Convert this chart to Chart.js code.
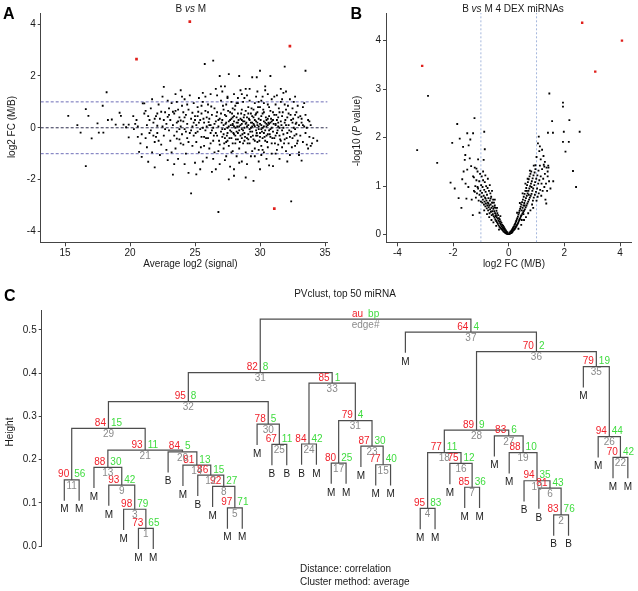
<!DOCTYPE html>
<html>
<head>
<meta charset="utf-8">
<title>B vs M miRNA</title>
<script src="https://cdn.jsdelivr.net/npm/chart.js@4.4.1/dist/chart.umd.min.js"></script>
<style>
  body { margin: 0; background: #fff; }
  #page { position: relative; width: 638px; height: 591px; overflow: hidden; }
  #page canvas { position: absolute; }
</style>
</head>
<body>
<div id="page">
  <canvas id="chartA" width="340" height="280" style="left:0;top:0"></canvas>
  <canvas id="chartB" width="298" height="280" style="left:340px;top:0"></canvas>
  <canvas id="chartC" width="638" height="311" style="left:0;top:280px"></canvas>
</div>
<script>
// Panel A - MA plot (average log2 signal vs log2 FC)
const maTicksX = [15, 20, 25, 30, 35];
const maTicksY = [-4, -2, 0, 2, 4];
const maCutoffs = [-1, 0, 1];
const maDex = [[20.5, 2.65], [24.6, 4.1], [32.3, 3.15], [31.1, -3.12]];
const maPoints = [
  [15.25,0.46],[15.95,0.10],[16.2,-0.19],[16.6,0.72],[16.6,-1.48],[16.8,0.46],[17.05,-0.41],[17.5,0.17],[17.6,-0.19],[17.9,0.85],
  [17.95,-0.19],[18.2,1.37],[18.3,0.30],[18.6,0.32],[18.9,0.12],[19.2,0.58],[19.3,0.46],[19.5,0.12],[19.9,-0.37],[19.9,0.12],
  [20.25,0.45],[20.4,0.15],[20.5,0.3],[20.6,-0.35],[20.7,-0.93],[20.8,-0.6],[20.9,-1.12],[20.9,-0.25],[20.98,0.94],[20.3,-0.05],
  [19.7,0.02],[20.6,0.05],
  [21.1,0.94],[21.1,0.55],[21.2,-0.4],[21.3,-0.75],[21.4,-1.31],[21.5,0.3],[21.6,0.75],[21.6,-0.1],[21.7,1.1],[21.8,0.2],
  [21.9,-1.53],[21.9,-0.55],[22.0,0.45],[22.1,-0.2],[22.1,0.08],[22.2,0.9],[22.3,-1.05],[22.3,0.35],[22.4,-0.65],[22.5,1.2],
  [22.5,0.05],[22.6,1.58],[22.6,-0.3],[22.7,0.6],[22.8,-0.85],[22.8,0.15],[22.9,0.42],[22.9,-1.25],[23.0,-0.1],[23.0,0.75],
  [21.3,0.1],[21.7,-0.95],[22.0,-0.35],[22.4,0.62],[22.7,-0.05],[21.5,-0.2],[22.2,-0.5],[21.9,0.35],[22.9,1.05],[21.2,0.65],
  [23.1,0.3],[23.1,-0.5],[23.2,0.95],[23.3,-1.81],[23.3,0.1],[23.4,-0.3],[23.4,0.55],[23.5,1.3],[23.5,-0.8],[23.6,0.2],
  [23.6,-0.15],[23.7,0.7],[23.7,-1.2],[23.8,0.4],[23.8,-0.45],[23.9,1.45],[23.9,0.05],[24.0,-0.25],[24.0,0.85],[24.1,-0.65],
  [24.1,0.25],[24.2,1.1],[24.2,-0.05],[24.3,-1.0],[24.3,0.5],[24.4,0.15],[24.4,-0.4],[24.5,-1.74],[24.5,0.7],[24.6,-0.2],
  [24.6,1.25],[24.7,-2.53],[24.7,0.35],[24.8,-0.7],[24.8,0.05],[24.9,0.95],[24.9,-0.3],[25.0,0.45],[25.0,-1.35],[23.2,-0.95],
  [23.5,0.65],[23.8,-0.05],[24.1,0.6],[24.4,0.9],[24.7,-0.1],[23.0,0.5],[23.6,1.0],[24.2,-1.4],[24.9,0.2],[23.9,-0.6],
  [25.1,0.1],[25.1,-0.55],[25.2,0.8],[25.2,-0.15],[25.3,1.15],[25.3,-0.95],[25.4,0.3],[25.4,-1.6],[25.5,0.55],[25.5,-0.35],
  [25.6,0.0],[25.6,1.0],[25.7,-0.7],[25.75,2.46],[25.7,0.2],[25.8,-0.1],[25.8,0.65],[25.9,-1.15],[25.9,0.4],[26.0,-0.4],
  [26.0,0.9],[26.1,0.1],[26.1,-0.8],[26.2,1.3],[26.2,-0.2],[26.3,0.5],[26.3,-1.7],[26.4,2.59],[26.4,0.0],[26.4,-0.5],
  [26.5,0.75],[26.5,-0.95],[26.6,0.25],[26.6,1.5],[26.7,-0.3],[26.7,0.6],[26.8,-3.25],[26.8,0.05],[26.9,2.0],[26.9,-0.65],
  [26.9,0.35],[27.0,1.05],[27.0,-0.15],[25.2,0.45],[25.4,-0.05],[25.6,-1.3],[25.8,1.2],[26.0,0.6],[26.2,-0.6],[26.5,0.15],
  [26.7,1.25],[26.9,-1.4],[25.3,0.2],[25.9,0.05],[26.3,-0.1],[26.6,-0.2],[27.0,0.55],[25.5,0.85],[26.1,0.35],[26.8,-0.9],
  [27.1,-0.35],[27.1,0.3],[27.1,1.4],[27.2,-0.8],[27.2,0.1],[27.2,0.7],[27.3,-0.05],[27.3,-1.25],[27.3,1.6],[27.4,0.45],
  [27.4,-0.55],[27.4,0.9],[27.5,0.0],[27.5,-0.2],[27.5,1.15],[27.6,2.07],[27.6,-1.99],[27.6,0.25],[27.6,-0.7],[27.7,0.6],
  [27.7,-0.1],[27.7,-1.5],[27.8,0.35],[27.8,1.0],[27.8,-0.4],[27.9,0.1],[27.9,-0.9],[27.9,0.75],[28.0,-0.25],[28.0,0.45],
  [28.0,1.3],[28.0,-1.6],[28.1,0.0],[28.1,-0.6],[28.1,0.85],[28.2,0.2],[28.2,-0.15],[28.2,-1.1],[28.3,0.55],[28.3,1.15],
  [28.3,-0.45],[28.4,2.0],[28.4,0.05],[28.4,-0.8],[28.5,0.35],[28.5,-0.3],[28.5,1.45],[28.6,-0.05],[28.6,0.7],[28.6,-1.3],
  [28.7,0.25],[28.7,-0.6],[28.7,1.0],[28.8,0.0],[28.8,-0.2],[28.8,0.5],[28.9,-1.92],[28.9,0.15],[28.9,-0.95],[29.0,0.4],
  [29.0,1.25],[29.0,-0.4],[27.2,-0.25],[27.4,0.2],[27.6,0.05],[27.8,-0.15],[28.0,0.25],[28.2,0.4],[28.4,-0.1],[28.6,0.3],
  [28.8,-0.5],[29.0,0.05],[27.3,0.5],[27.5,-0.5],[27.9,0.4],[28.3,-0.2],[28.7,-0.1],[27.7,0.3],[28.1,-0.3],[28.5,0.1],
  [28.9,0.65],[27.1,-0.05],[28.0,0.05],[28.6,0.15],[27.5,1.2],[28.2,0.95],[28.8,1.15],[27.4,-1.1],[28.4,-1.35],[27.9,-0.6],
  [29.1,0.1],[29.1,-0.25],[29.1,0.8],[29.2,-0.6],[29.2,0.3],[29.2,1.5],[29.3,0.0],[29.3,-1.1],[29.3,0.55],[29.4,1.95],
  [29.4,-0.15],[29.4,0.2],[29.5,-2.05],[29.5,0.4],[29.5,-0.45],[29.6,0.95],[29.6,0.05],[29.6,-0.8],[29.7,0.25],[29.7,-0.3],
  [29.7,1.2],[29.75,1.95],[29.8,0.1],[29.8,-0.55],[29.8,0.6],[29.9,-0.05],[29.9,-1.3],[29.9,0.35],[30.0,2.2],[30.0,0.15],
  [30.0,-0.2],[30.0,0.8],[30.1,-0.7],[30.1,0.45],[30.1,1.05],[30.2,0.0],[30.2,-0.4],[30.2,1.2],[30.3,0.25],[30.3,-0.95],
  [30.3,0.6],[30.4,-0.1],[30.4,1.45],[30.4,-0.5],[30.5,-1.2],[30.5,0.3],[30.5,0.05],[30.6,0.9],[30.6,-0.25],[30.6,-0.75],
  [30.7,0.45],[30.7,0.15],[30.7,-1.45],[30.8,2.0],[30.8,-0.35],[30.8,0.65],[30.9,0.0],[30.9,-0.6],[30.9,1.1],[31.0,-1.48],
  [31.0,0.3],[31.0,-0.15],[29.2,-0.05],[29.4,0.45],[29.6,-0.5],[29.8,0.2],[30.0,-0.35],[30.2,0.55],[30.4,0.2],[30.6,0.1],
  [30.8,-0.05],[31.0,0.6],[29.3,-0.35],[29.5,0.15],[29.7,-0.1],[29.9,0.05],[30.1,0.1],[30.3,-0.2],[30.5,-0.3],[30.7,-0.1],
  [30.9,0.25],[29.1,0.55],[29.5,0.7],[29.9,-0.85],[30.3,0.95],[30.7,0.8],[29.4,-0.9],[30.1,-1.05],[30.6,1.3],[29.8,1.4],
  [31.1,0.5],[31.1,-0.4],[31.2,0.1],[31.2,-1.0],[31.2,0.9],[31.3,-0.2],[31.3,0.3],[31.3,1.25],[31.4,-0.65],[31.4,0.05],
  [31.5,0.6],[31.5,-0.3],[31.5,-1.2],[31.6,0.25],[31.6,1.0],[31.7,-0.1],[31.7,-0.75],[31.7,0.45],[31.8,1.35],[31.8,0.0],
  [31.9,2.36],[31.9,-0.45],[31.9,0.2],[32.0,0.7],[32.0,-0.9],[32.0,1.4],[32.1,-0.2],[32.1,0.4],[32.2,0.1],[32.2,-0.6],
  [32.3,1.1],[32.3,-1.05],[32.4,-2.84],[32.4,0.3],[32.4,-0.15],[32.5,0.75],[32.5,-0.4],[32.6,0.0],[32.6,1.0],[32.7,-0.7],
  [32.7,0.5],[32.8,0.2],[32.8,-0.25],[32.9,0.85],[32.9,-0.5],[33.0,0.1],[33.0,-0.95],[31.2,0.15],[31.4,0.4],[31.6,-0.5],
  [31.8,-0.25],[32.0,0.1],[32.2,0.55],[32.5,0.2],[32.7,-0.05],[31.5,0.0],[31.9,0.9],[32.3,-0.35],[32.8,0.6],[31.3,-0.85],
  [32.1,-1.3],[31.7,1.1],
  [33.1,0.45],[33.1,-0.3],[33.2,-1.27],[33.2,0.2],[33.3,0.8],[33.3,-0.55],[33.4,0.05],[33.5,2.2],[33.5,-0.2],[33.5,0.5],
  [33.6,-0.65],[33.7,0.3],[33.8,-0.35],[33.9,0.1],[34.0,-0.6],[34.1,-0.4],[34.4,-0.5],[33.4,0.95],[33.7,-0.8],[33.9,-0.7],
  [33.2,0.35],[33.6,0.0],
  [23.3,0.62],[23.6,-0.42],[23.9,0.28],[24.2,0.4],[24.5,-0.55],[24.8,0.58],[25.05,-0.2],[25.25,0.62],[25.45,-0.75],[25.65,0.35],
  [25.85,-0.4],[26.05,0.22],[26.25,0.82],[26.45,-0.3],[26.65,0.45],[26.85,-0.5],[27.05,0.2],[27.15,0.85],[27.25,-0.6],[27.35,0.15],
  [27.45,-0.3],[27.55,0.65],[27.65,-0.4],[27.75,0.1],[27.85,0.55],[27.95,-0.2],[28.05,0.7],[28.15,-0.45],[28.25,0.05],[28.35,0.3],
  [28.45,-0.55],[28.55,0.55],[28.65,-0.25],[28.75,0.4],[28.85,-0.35],[28.95,0.2],[29.05,-0.6],[29.15,0.35],[29.25,-0.15],[29.35,0.75],
  [29.45,-0.3],[29.55,0.1],[29.65,0.5],[29.75,-0.2],[29.85,0.8],[29.95,-0.5],[30.05,0.3],[30.15,-0.15],[30.25,0.7],[30.35,-0.35],
  [30.45,0.4],[30.55,-0.55],[30.65,0.2],[30.75,-0.25],[30.85,0.35],[30.95,-0.4],[31.05,0.15],[31.15,-0.6],[31.25,0.5],[31.35,-0.1],
  [31.45,0.75],[31.55,-0.45],[31.65,0.1],[31.75,0.6],[31.85,-0.6],[31.95,0.3],[32.05,-0.4],[32.15,0.85],[32.25,-0.1],[32.35,0.5],
  [32.45,-0.75],[32.55,0.35],[32.65,-0.3],[32.75,0.15],[32.85,-0.6],[32.95,0.4],[28.3,0.95],[29.2,1.05],[30.2,-0.85],[31.1,1.2],
  [27.8,-0.95],[29.6,-1.1],[30.9,-1.0],[28.6,1.3],[29.9,1.0],[26.4,-1.2],[25.6,1.35],[31.6,1.5],[30.4,1.6],[29.0,-1.4],
  [27.0,1.6],[28.0,-1.85],[30.0,-1.6],[32.7,1.2],[24.0,1.2],[23.4,-1.4],[25.1,-1.8],[26.6,-1.6],[33.0,-1.05],[28.9,1.5],
  [29.3,0.2],[29.6,0.3],[30.3,0.05],[30.5,0.15],[30.1,-0.05],[29.8,-0.3],[28.6,-0.4],[28.3,0.2],[29.1,-0.45],[30.8,0.2],
  [29.4,0.05],[29.7,0.55],[30.6,0.35],[28.8,0.25],[31.2,-0.3],[31.4,0.2],[27.9,0.15],[27.3,-0.4],[26.8,0.3],[26.2,0.1],
  [25.7,-0.35],[25.0,0.3],[24.3,-0.15],[23.7,0.25],[22.6,0.3],[22.1,0.55],[21.8,-0.3],[21.4,0.45],[33.3,0.1],[33.8,0.25]
];

// Panel B - volcano plot (log2 FC vs -log10 P)
const volTicksX = [-4, -2, 0, 2, 4];
const volTicksY = [0, 1, 2, 3, 4];
const volCutoffs = [-1, 1];
const volDex = [[-3.11, 3.48], [2.64, 4.37], [4.07, 4.0], [3.11, 3.36]];
const volPoints = [
  // sparse left side
  [-3.29,1.74],[-2.9,2.86],[-2.57,1.48],[-2.09,1.07],[-2.03,1.89],[-1.94,0.95],[-1.85,2.28],[-1.76,1.98],[-1.67,1.14],[-1.64,1.81],
  [-1.58,1.54],[-1.56,1.64],[-1.52,0.74],[-1.49,2.09],[-1.49,1.34],[-1.44,1.84],[-1.40,1.57],[-1.38,1.96],[-1.35,1.41],[-1.29,0.40],
  [-1.28,2.09],[-1.23,2.40],[-1.22,0.88],[-1.16,1.36],[-0.88,2.12],[-0.86,1.76],[-0.84,1.22],[-0.9,1.54],[-1.7,0.55],[-1.62,1.3],
  [-1.45,0.98],[-1.33,0.72],[-1.8,0.75],[-1.55,1.05],[-1.25,1.18],[-1.1,1.55],[-1.05,0.45],[-1.12,0.98],
  // left arm
  [-0.02,0.01],[-0.04,0.04],[-0.05,0.01],[-0.06,0.05],[-0.08,0.02],[-0.09,0.07],[-0.1,0.04],[-0.11,0.09],[-0.12,0.03],[-0.13,0.08],
  [-0.14,0.12],[-0.15,0.05],[-0.16,0.1],[-0.17,0.15],[-0.18,0.06],[-0.19,0.12],[-0.2,0.18],[-0.21,0.08],[-0.22,0.14],[-0.23,0.2],
  [-0.24,0.1],[-0.25,0.17],[-0.26,0.24],[-0.27,0.12],[-0.28,0.2],[-0.29,0.27],[-0.3,0.14],[-0.31,0.23],[-0.32,0.31],[-0.33,0.16],
  [-0.34,0.26],[-0.35,0.34],[-0.36,0.19],[-0.37,0.29],[-0.38,0.4],[-0.39,0.22],[-0.4,0.33],[-0.41,0.44],[-0.42,0.25],[-0.43,0.36],
  [-0.44,0.49],[-0.45,0.28],[-0.46,0.4],[-0.47,0.55],[-0.48,0.31],[-0.49,0.44],[-0.5,0.6],[-0.51,0.35],[-0.52,0.48],[-0.53,0.66],
  [-0.54,0.38],[-0.55,0.53],[-0.56,0.72],[-0.57,0.42],[-0.58,0.58],[-0.59,0.48],[-0.6,0.66],[-0.61,0.4],[-0.62,0.55],[-0.63,0.78],
  [-0.64,0.47],[-0.65,0.62],[-0.66,0.85],[-0.67,0.52],[-0.68,0.7],[-0.69,0.44],[-0.7,0.6],[-0.71,0.9],[-0.72,0.56],[-0.73,0.75],
  [-0.74,0.5],[-0.75,0.66],[-0.76,0.96],[-0.77,0.6],[-0.78,0.82],[-0.79,0.54],[-0.8,0.7],[-0.81,1.0],[-0.82,0.64],[-0.83,0.88],
  [-0.84,0.58],[-0.85,0.76],[-0.86,1.08],[-0.87,0.68],[-0.88,0.92],[-0.89,0.62],[-0.9,0.8],[-0.92,1.12],[-0.93,0.72],[-0.94,0.98],
  [-0.95,0.66],[-0.96,0.86],[-0.97,1.2],[-0.98,0.78],[-0.99,1.02],[-1.0,0.68],[-1.02,0.9],[-1.03,1.25],[-1.05,0.82],[-1.06,1.1],
  [-1.08,0.7],[-1.1,0.95],[-1.12,1.3],[-1.14,0.85],[-1.16,1.12],[-1.18,0.76],[-1.2,1.0],[-1.22,1.38],[-1.25,0.9],[-1.28,1.2],
  [-0.35,0.1],[-0.45,0.18],[-0.55,0.25],[-0.62,0.3],[-0.7,0.36],[-0.78,0.42],[-0.88,0.5],[-0.5,0.72],[-0.6,0.9],[-0.68,1.02],
  [-0.75,1.15],[-0.92,1.3],[-0.42,0.55],[-0.3,0.38],[-0.65,0.74],[-0.73,0.64],[-0.83,0.74],[-0.58,0.66],[-0.52,0.56],[-0.47,0.38],
  // right arm
  [0.02,0.01],[0.03,0.04],[0.05,0.02],[0.06,0.06],[0.07,0.03],[0.09,0.07],[0.1,0.03],[0.11,0.09],[0.12,0.05],[0.13,0.11],
  [0.14,0.06],[0.15,0.13],[0.16,0.08],[0.17,0.15],[0.18,0.09],[0.19,0.17],[0.2,0.11],[0.21,0.2],[0.22,0.12],[0.23,0.22],
  [0.24,0.14],[0.25,0.25],[0.26,0.16],[0.27,0.28],[0.28,0.18],[0.29,0.31],[0.3,0.2],[0.31,0.34],[0.32,0.22],[0.33,0.37],
  [0.34,0.24],[0.35,0.41],[0.36,0.27],[0.37,0.45],[0.38,0.3],[0.39,0.49],[0.4,0.32],[0.41,0.53],[0.42,0.35],[0.43,0.57],
  [0.44,0.38],[0.45,0.62],[0.46,0.4],[0.47,0.5],[0.48,0.67],[0.49,0.43],[0.5,0.55],[0.51,0.72],[0.52,0.46],[0.53,0.6],
  [0.54,0.78],[0.55,0.49],[0.56,0.65],[0.57,0.84],[0.58,0.52],[0.59,0.7],[0.6,0.9],[0.61,0.56],[0.62,0.75],[0.63,0.96],
  [0.64,0.6],[0.65,0.8],[0.66,1.02],[0.67,0.64],[0.68,0.85],[0.69,1.08],[0.7,0.68],[0.71,0.9],[0.72,1.14],[0.73,0.72],
  [0.74,0.95],[0.75,1.2],[0.76,0.76],[0.77,1.0],[0.78,1.25],[0.79,0.8],[0.8,1.05],[0.81,1.3],[0.82,0.84],[0.83,1.1],
  [0.84,0.62],[0.85,0.9],[0.86,1.16],[0.87,0.7],[0.88,0.95],[0.89,1.22],[0.9,0.76],[0.92,1.02],[0.93,1.28],[0.94,0.82],
  [0.95,1.08],[0.96,1.35],[0.98,0.88],[0.99,1.15],[1.0,0.7],[1.02,0.95],[1.03,1.22],[1.04,0.78],[1.06,1.05],[1.07,1.32],
  [1.08,0.85],[1.1,1.12],[1.12,1.42],[1.13,0.92],[1.15,1.2],[1.17,0.8],[1.18,1.05],[1.2,1.35],[1.22,0.9],[1.24,1.15],
  [1.26,1.44],[1.28,0.98],[1.3,1.25],[1.32,0.72],[1.34,1.05],[1.36,1.38],[1.38,0.9],[1.4,1.2],[1.42,1.42],[1.45,1.1],
  [0.35,0.12],[0.45,0.2],[0.55,0.3],[0.62,0.36],[0.7,0.44],[0.78,0.5],[0.88,0.55],[0.5,0.85],[0.6,1.05],[0.68,1.15],
  [0.76,1.32],[0.9,1.42],[0.4,0.65],[0.3,0.45],[0.65,0.9],[0.72,0.82],[0.82,0.98],[0.57,0.6],[0.53,0.42],[0.47,0.3],
  // sparse right side
  [1.46,2.91],[1.95,2.72],[1.95,2.64],[1.56,2.34],[2.18,2.36],[2.55,2.12],[1.98,2.12],[1.41,2.10],[1.59,2.10],[1.08,2.02],
  [1.05,1.88],[1.12,1.82],[1.1,1.72],[1.2,1.75],[1.25,1.62],[2.16,1.91],[1.95,1.91],[2.04,1.71],[2.31,1.31],[2.42,0.98],
  [1.35,0.64],[1.28,1.40],[1.43,1.38],[0.96,1.43],[1.0,1.6],[1.15,1.55],[1.3,1.5],[1.4,1.3],[1.5,0.95],[1.6,1.1]
];

// Panel C - pvclust dendrogram, leaves numbered left to right
const leafLabels = ['M','M','M','M','M','M','M','B','M','B','M','M','M','M','B','B','B','M','M','M',
  'M','M','M','M','M','M','M','M','M','M','M','B','B','B','B','M','M','M','M'];
// negative = leaf number, positive = row (edge) number
const mergeLeft = [-6,-34,-5,-25,-12,-33,-28,-11,-4,-32,-1,-10,-3,-9,-22,-27,-19,4,-31,-8,
  13,-38,-21,-17,-15,-37,-30,18,11,-14,17,29,24,32,-36,28,-24,34];
const mergeRight = [-7,-35,1,-26,-13,2,-29,5,3,6,-2,8,9,12,-23,7,-20,16,10,14,
  20,-39,15,-18,-16,22,19,27,21,25,23,30,31,33,26,35,36,37];
const mergeHeight = [0.041,0.072,0.085,0.087,0.088,0.134,0.136,0.138,0.141,0.151,0.153,0.164,0.182,0.187,0.188,0.191,0.192,0.216,0.216,0.218,
  0.222,0.205,0.231,0.236,0.235,0.253,0.255,0.268,0.272,0.282,0.290,0.334,0.377,0.401,0.415,0.450,0.495,0.525];
const auValues = [73,83,98,95,97,81,85,92,93,94,90,86,88,81,77,75,80,77,88,84,
  93,70,87,84,67,94,83,89,84,78,79,95,85,82,79,70,64,'au'];
const bpValues = [65,76,79,83,71,43,36,27,42,35,56,15,30,13,40,12,25,11,10,5,
  11,42,30,42,11,44,6,9,15,5,4,8,1,8,19,2,4,'bp'];
const edgeLabels = [1,2,3,4,5,6,7,8,9,10,11,12,13,14,15,16,17,18,19,20,
  21,22,23,24,25,26,27,28,29,30,31,32,33,31,35,36,37,'edge#'];
const heightTicks = [0, 0.1, 0.2, 0.3, 0.4, 0.5];

// Styling
const FONT = '"Liberation Sans", Arial, sans-serif';
const AXIS = '#444';
const TEXT = '#1a1a1a';
const AU_RED = '#f0202a';
const BP_GREEN = '#3fdc3f';
const EDGE_GRAY = '#8a8a8a';
const TREE = '#4d4d4d';
const HANG = 0.048;

Chart.defaults.font.family = FONT;
Chart.defaults.font.size = 10;
Chart.defaults.color = TEXT;

function linearAxis(ticks, min, max, cfg) {
  return {
    type: 'linear',
    min: min,
    max: max,
    display: cfg.display !== false,
    afterBuildTicks: s => { s.ticks = ticks.map(v => ({ value: v })); },
    afterFit: cfg.fit,
    grid: { drawOnChartArea: false, tickLength: cfg.tick, color: AXIS },
    border: { color: AXIS, width: 1 },
    ticks: { padding: cfg.pad, color: TEXT, font: { size: 10 }, maxRotation: 0, callback: cfg.fmt || (v => String(v)) }
  };
}

function dots(pts, color, radius) {
  return {
    data: pts.map(([x, y]) => ({ x, y })),
    pointStyle: 'rect',
    pointRadius: radius,
    backgroundColor: color,
    borderWidth: 0,
    order: 0
  };
}

function refLine(from, to, color, dash) {
  return {
    data: [from, to],
    showLine: true,
    borderColor: color,
    borderWidth: 1,
    borderDash: dash,
    pointRadius: 0,
    order: 5
  };
}

// mixed normal / italic text, centred on (cx, cy), optionally rotated
function richText(ctx, parts, cx, cy, rotate) {
  ctx.save();
  ctx.translate(cx, cy);
  if (rotate) ctx.rotate(-Math.PI / 2);
  ctx.textBaseline = 'middle';
  ctx.textAlign = 'left';
  ctx.fillStyle = TEXT;
  const fonts = parts.map(([, it]) => (it ? 'italic ' : '') + '10px ' + FONT);
  const widths = parts.map(([t], i) => { ctx.font = fonts[i]; return ctx.measureText(t).width; });
  let x = -widths.reduce((a, b) => a + b, 0) / 2;
  parts.forEach(([t], i) => { ctx.font = fonts[i]; ctx.fillText(t, x, 0); x += widths[i]; });
  ctx.restore();
}

function panelLetter(ctx, letter, x, y) {
  ctx.save();
  ctx.font = 'bold 16px ' + FONT;
  ctx.fillStyle = '#000';
  ctx.textAlign = 'left';
  ctx.textBaseline = 'alphabetic';
  ctx.fillText(letter, x, y);
  ctx.restore();
}

const baseOptions = {
  responsive: false,
  animation: false,
  events: [],
  plugins: { legend: { display: false }, tooltip: { enabled: false } }
};

// ---- A ----
const maRange = { xMin: 13.13, xMax: 35.2, yMin: -4.42, yMax: 4.43 };
new Chart(document.getElementById('chartA'), {
  type: 'scatter',
  data: {
    datasets: [
      dots(maDex, '#e0201c', 1.9),
      dots(maPoints, '#000', 1.3),
      ...maCutoffs.map(c => refLine({ x: maRange.xMin, y: c }, { x: maRange.xMax, y: c },
        c === 0 ? '#2e2e4e' : '#6e6eb8', [3, 2]))
    ]
  },
  options: {
    ...baseOptions,
    layout: { padding: { top: 13, right: 12.4, left: 0, bottom: 0 } },
    scales: {
      x: linearAxis(maTicksX, maRange.xMin, maRange.xMax, { tick: 4, pad: 1, fit: s => { s.height = 37.7; } }),
      y: linearAxis(maTicksY, maRange.yMin, maRange.yMax, { tick: 3, pad: 2, fit: s => { s.width = 40.7; } })
    }
  },
  plugins: [{
    id: 'panelA',
    afterDraw(chart) {
      const ctx = chart.ctx;
      panelLetter(ctx, 'A', 3, 19);
      richText(ctx, [['B ', false], ['vs', true], [' M', false]], 190.8, 9);
      richText(ctx, [['Average log2 (signal)', false]], 190.5, 264);
      richText(ctx, [['log2 FC (M/B)', false]], 12.3, 127, true);
    }
  }]
});

// ---- B ----
const volRange = { xMin: -4.41, xMax: 4.42, yMin: -0.16, yMax: 4.57 };
new Chart(document.getElementById('chartB'), {
  type: 'scatter',
  data: {
    datasets: [
      dots(volDex, '#e0201c', 1.7),
      dots(volPoints, '#000', 1.3),
      ...volCutoffs.map(c => refLine({ x: c, y: volRange.yMin }, { x: c, y: volRange.yMax }, '#a4b6dc', [2, 2]))
    ]
  },
  options: {
    ...baseOptions,
    layout: { padding: { top: 13, right: 6.3, left: 0, bottom: 0 } },
    scales: {
      x: linearAxis(volTicksX, volRange.xMin, volRange.xMax, { tick: 4, pad: 1, fit: s => { s.height = 37.7; } }),
      y: linearAxis(volTicksY, volRange.yMin, volRange.yMax, { tick: 3, pad: 2, fit: s => { s.width = 46; } })
    }
  },
  plugins: [{
    id: 'panelB',
    afterDraw(chart) {
      const ctx = chart.ctx;
      panelLetter(ctx, 'B', 10.5, 18.5);
      richText(ctx, [['B ', false], ['vs', true], [' M 4 DEX miRNAs', false]], 173, 9);
      richText(ctx, [['log2 FC (M/B)', false]], 174, 264);
      richText(ctx, [['-log10 (', false], ['P', true], [' value)', false]], 17.7, 131, true);
    }
  }]
});

// ---- C ----
const nodeX = [];
const childX = c => (c < 0 ? -c : nodeX[c - 1]);
const childBottom = (c, h) => (c < 0 ? h - HANG : mergeHeight[c - 1]);
mergeLeft.forEach((l, i) => { nodeX[i] = (childX(l) + childX(mergeRight[i])) / 2; });

const treeSets = mergeLeft.map((l, i) => {
  const r = mergeRight[i];
  const h = mergeHeight[i];
  return {
    data: [
      { x: childX(l), y: childBottom(l, h) },
      { x: childX(l), y: h },
      { x: childX(r), y: h },
      { x: childX(r), y: childBottom(r, h) }
    ],
    showLine: true,
    borderColor: TREE,
    borderWidth: 1.2,
    pointRadius: 0,
    tension: 0,
    clip: false
  };
});

new Chart(document.getElementById('chartC'), {
  type: 'scatter',
  data: { datasets: treeSets },
  options: {
    ...baseOptions,
    layout: { padding: { top: 30.5, right: 0, left: 0, bottom: 45 } },
    scales: {
      x: { type: 'linear', display: false, min: -0.524, max: 39.685 },
      y: linearAxis(heightTicks, 0, 0.545, { tick: 3, pad: 2, fmt: v => v.toFixed(1), fit: s => { s.width = 41.7; } })
    }
  },
  plugins: [{
    id: 'pvclustLabels',
    afterDatasetsDraw(chart) {
      const { ctx, scales: { x, y } } = chart;
      ctx.save();
      ctx.font = '10px ' + FONT;
      mergeHeight.forEach((h, i) => {
        const px = x.getPixelForValue(nodeX[i]);
        const py = y.getPixelForValue(h);
        ctx.textBaseline = 'alphabetic';
        ctx.fillStyle = AU_RED;
        ctx.textAlign = 'right';
        ctx.fillText(String(auValues[i]), px - 2.5, py - 2.5);
        ctx.fillStyle = BP_GREEN;
        ctx.textAlign = 'left';
        ctx.fillText(String(bpValues[i]), px + 2.5, py - 2.5);
        ctx.fillStyle = EDGE_GRAY;
        ctx.textAlign = 'center';
        ctx.textBaseline = 'top';
        ctx.fillText(String(edgeLabels[i]), px, py + 1);
        [mergeLeft[i], mergeRight[i]].forEach(c => {
          if (c > 0) return;
          ctx.fillStyle = TEXT;
          ctx.fillText(leafLabels[-c - 1], x.getPixelForValue(-c), y.getPixelForValue(h - HANG) + 4);
        });
      });
      ctx.restore();
    },
    afterDraw(chart) {
      const ctx = chart.ctx;
      panelLetter(ctx, 'C', 4, 20.7);
      richText(ctx, [['PVclust, top 50 miRNA', false]], 345, 14);
      richText(ctx, [['Height', false]], 10, 152, true);
      ctx.save();
      ctx.font = '10px ' + FONT;
      ctx.fillStyle = TEXT;
      ctx.textBaseline = 'middle';
      ctx.textAlign = 'left';
      ctx.fillText('Distance: correlation', 300, 289.3);
      ctx.fillText('Cluster method: average', 300, 302.3);
      ctx.restore();
    }
  }]
});
</script>
</body>
</html>
